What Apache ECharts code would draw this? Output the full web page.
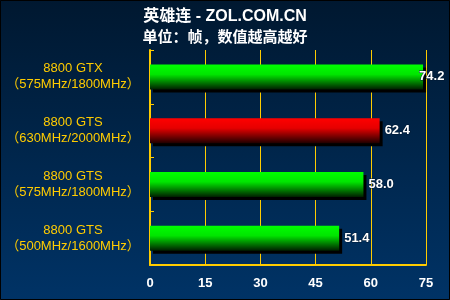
<!DOCTYPE html>
<html><head><meta charset="utf-8">
<script src="https://cdn.jsdelivr.net/npm/echarts@6/dist/echarts.min.js"></script>
<style>html,body{margin:0;padding:0;background:#001a33}#c{width:450px;height:300px}</style>
</head><body><div id="c"></div>
<script>
const categories = ['8800 GTX\n（575MHz/1800MHz）','8800 GTS\n（630MHz/2000MHz）','8800 GTS\n（575MHz/1800MHz）','8800 GTS\n（500MHz/1600MHz）'];
const values = [74.2, 62.4, 58.0, 51.4];
const highlight = [false, true, false, false];
const xTicks = [0, 15, 30, 45, 60, 75];

function grad(c1, c2, c3){
  return new echarts.graphic.LinearGradient(0,0,0,1,[{offset:0,color:c1},{offset:0.4,color:c2},{offset:1,color:c3}]);
}
const green = grad('#00ff00','#00e600','#002000');
const red = grad('#ff0000','#e60000','#200000');

const chart = echarts.init(document.getElementById('c'), null, {renderer:'canvas'});
chart.setOption({
  backgroundColor: new echarts.graphic.LinearGradient(0,0,0,1,[{offset:0,color:'#001830'},{offset:1,color:'#003366'}]),
  animation:false,
  title:{
    text:'英雄连 - ZOL.COM.CN',
    subtext:'单位：帧，数值越高越好',
    left:'center', top:4, itemGap:5,
    textStyle:{color:'#ffffff',fontSize:16,fontWeight:'bold',fontFamily:'Arial, Liberation Sans, Noto Sans CJK SC'},
    subtextStyle:{color:'#ffffff',fontSize:15,fontWeight:'bold',fontFamily:'Arial, Liberation Sans, Noto Sans CJK SC'}
  },
  graphic:[{type:'rect',shape:{x:0.5,y:0.5,width:449,height:299},style:{fill:null,stroke:'#000000',lineWidth:1},silent:true,z:100}],
  grid:{left:150,right:24,top:50,bottom:35},
  xAxis:{
    type:'value',min:xTicks[0],max:xTicks[xTicks.length-1],interval:15,
    axisLine:{show:true,lineStyle:{color:'#ffcc00',width:2}},
    axisTick:{show:false},
    splitLine:{show:true,lineStyle:{color:'#ffcc00',width:1}},
    axisLabel:{color:'#ffffff',fontSize:13,fontWeight:'bold',fontFamily:'Arial, Liberation Sans',margin:12}
  },
  yAxis:{
    type:'category',data:categories,inverse:true,
    axisLine:{show:true,lineStyle:{color:'#ffcc00',width:2}},
    axisTick:{show:true,inside:true,length:4,lineStyle:{color:'#ffcc00',width:1}},
    axisLabel:{color:'#ffcc00',fontSize:13,align:'center',margin:77,lineHeight:16,fontFamily:'Arial, Liberation Sans, Noto Sans CJK SC'}
  },
  series:[{
    type:'bar',
    barWidth:25,
    data: values.map((v,i)=>({
      value:v,
      itemStyle:{color: highlight[i]?red:green},
      label: i===0 ? {distance:-4} : undefined
    })),
    itemStyle:{borderWidth:0,shadowColor:'#000000',shadowOffsetX:3,shadowOffsetY:3,shadowBlur:0},
    label:{show:true,position:'right',distance:5,color:'#ffffff',fontSize:13,fontWeight:'bold',fontFamily:'Arial, Liberation Sans',
      textBorderColor:'#001a33',textBorderWidth:1,
      formatter:p=>Number(p.value).toFixed(1)}
  }]
});
</script></body></html>
